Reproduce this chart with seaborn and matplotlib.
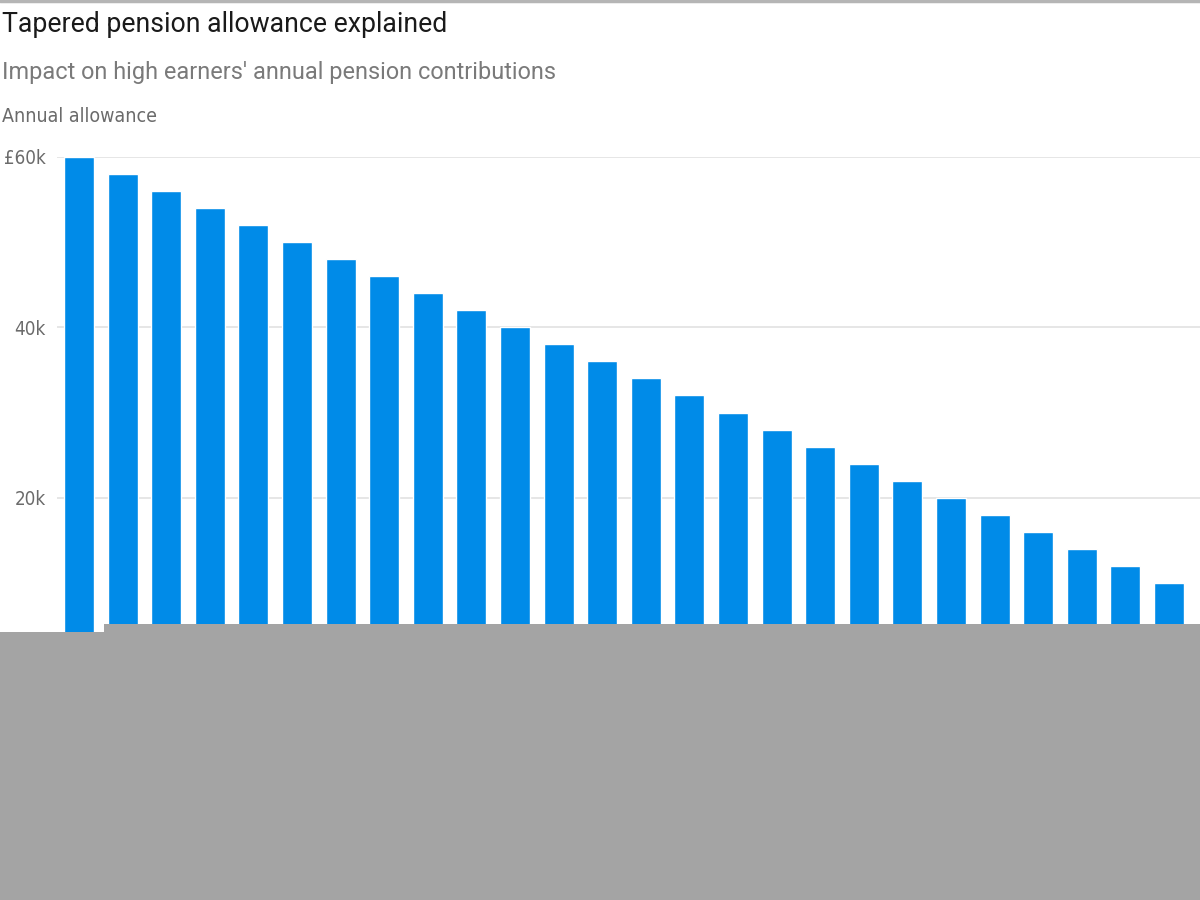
import matplotlib
matplotlib.use("Agg")
import matplotlib.pyplot as plt
from matplotlib import font_manager
import seaborn as sns
import pandas as pd
from matplotlib.patches import Rectangle

# adjusted income (£k) - labels themselves are hidden under the grey block
income = [260, 264, 268, 272, 276, 280, 284, 288, 292, 296, 300, 304, 308,
          312, 316, 320, 324, 328, 332, 336, 340, 344, 348, 352, 356, 360]
allowance = [60000, 58000, 56000, 54000, 52000, 50000, 48000, 46000, 44000,
             42000, 40000, 38000, 36000, 34000, 32000, 30000, 28000, 26000,
             24000, 22000, 20000, 18000, 16000, 14000, 12000, 10000]
yticks = [0, 20000, 40000, 60000]
ytick_labels = ["0", "20k", "40k", "£60k"]

title = "Tapered pension allowance explained"
subtitle = "Impact on high earners' annual pension contributions"
axis_title = "Annual allowance"

df = pd.DataFrame({"income": [f"£{v}k" for v in income], "allowance": allowance})

sns.set_theme(style="white")
plt.rcParams["font.family"] = ["Roboto", "DejaVu Sans"]

# condensed face for the axis texts, if one is around
cond = font_manager.FontProperties(family="DejaVu Sans", stretch="condensed")
if "Condensed" in font_manager.findfont(cond, fallback_to_default=True):
    narrow = dict(family="DejaVu Sans", stretch="condensed")
    narrow_size = 13.5
else:
    narrow = dict(family="Roboto")
    narrow_size = 12.5

fig = plt.figure(figsize=(12, 9), dpi=100)
ax = fig.add_axes([57 / 1200, 1 - 668 / 900, 1 - 57 / 1200, (668 - 157) / 900])

sns.barplot(data=df, x="income", y="allowance", color="#008be8",
            saturation=1, width=0.69, ax=ax, zorder=2)

ax.set_xlim(-0.505, 25.71)
ax.set_ylim(0, 60000)
ax.set_yticks(yticks)
ax.set_yticklabels(ytick_labels, fontsize=narrow_size, color="#6b6b6b", **narrow)
ax.tick_params(axis="y", length=0, pad=8)
ax.tick_params(axis="x", length=0, labelsize=11, colors="#6b6b6b")
ax.grid(axis="y", color="#e2e2e2", linewidth=1.2, zorder=0)
ax.set_axisbelow(True)
ax.set_xlabel("")
ax.set_ylabel("")
sns.despine(ax=ax, left=True, bottom=True, top=True, right=True)

# header texts
fig.text(2 / 1200, 1 - 24 / 900, title, fontsize=19.2, color="#1a1a1a",
         va="center", ha="left")
fig.text(2 / 1200, 1 - 73 / 900, subtitle, fontsize=16.9, color="#7a7a7a",
         va="center", ha="left")
fig.text(2 / 1200, 1 - 117 / 900, axis_title, fontsize=narrow_size + 0.5,
         color="#6b6b6b", va="center", ha="left", **narrow)

# thin rule across the very top
fig.add_artist(plt.Line2D([0, 1], [1 - 1 / 900, 1 - 1 / 900],
                          color="#b5b5b5", linewidth=2.5))

# grey block that covers the lower part of the reference image
fig.add_artist(Rectangle((0, 0), 104 / 1200, 1 - 632 / 900,
                         transform=fig.transFigure, color="#a4a4a4",
                         zorder=10, linewidth=0))
fig.add_artist(Rectangle((104 / 1200, 0), 1 - 104 / 1200, 1 - 624 / 900,
                         transform=fig.transFigure, color="#a4a4a4",
                         zorder=10, linewidth=0))

fig.savefig("out.png", dpi=100)
